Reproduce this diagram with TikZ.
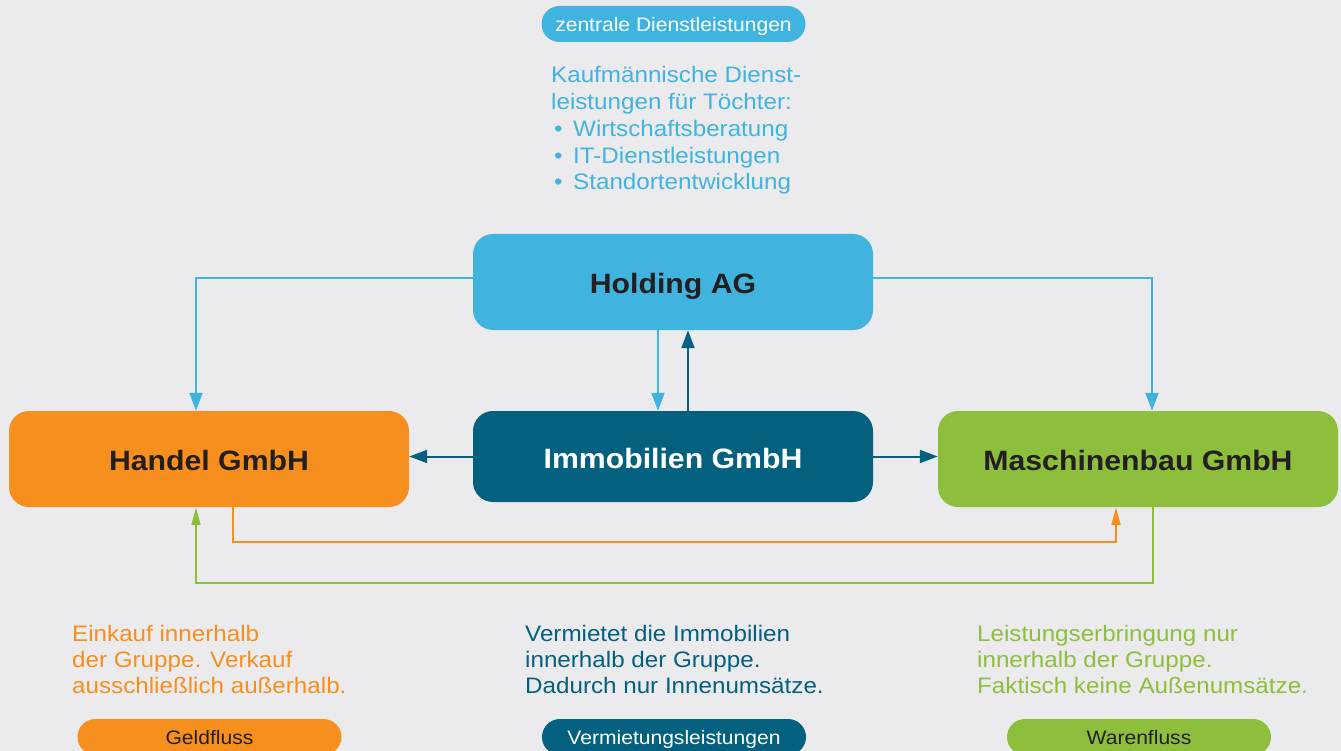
\documentclass[tikz,border=0pt]{standalone}
\usepackage{fontspec}
\setmainfont{Liberation Sans}[FakeStretch=1.08]
\usetikzlibrary{arrows.meta}
\definecolor{bg}{HTML}{EBEBED}
\definecolor{hcyan}{HTML}{40B4DF}
\definecolor{hteal}{HTML}{04607F}
\definecolor{horange}{HTML}{F78F1E}
\definecolor{hgreen}{HTML}{8DBF3D}
\definecolor{hdark}{HTML}{231F20}
\begin{document}
\begin{tikzpicture}[x=1pt,y=-1pt,
  box/.style={rectangle, rounded corners=20pt, minimum width=400pt, minimum height=96pt, inner sep=0pt, text height=23pt, text depth=0pt, font=\fontsize{28}{34}\selectfont\bfseries},
  pill/.style={rectangle, rounded corners=18pt, minimum width=264pt, minimum height=36pt, inner sep=0pt, text height=15pt, text depth=0pt, font=\fontsize{19.5}{24}\selectfont},
  txtline/.style={anchor=base west, inner sep=0pt, font=\fontsize{22.4}{26}\selectfont},
  conn/.style={line width=2pt, -{Triangle[length=18pt,width=13pt]}},
  connb/.style={line width=2pt, -{Triangle[length=18pt,width=9pt]}}
]
\clip (0,0) rectangle (1341,751);
\fill[bg] (0,0) rectangle (1341,751);

% top pill and text
\node[pill, fill=hcyan, text=white] (zd) at (673.5,24) {zentrale Dienstleistungen};
\node[txtline, text=hcyan] (t1) at (551,83) {Kaufmännische Dienst-};
\node[txtline, text=hcyan] (t2) at (551,110) {leistungen für Töchter:};
\node[txtline, text=hcyan] (t3) at (551,137) {\makebox[22pt][l]{\hspace{3pt}•}Wirtschaftsberatung};
\node[txtline, text=hcyan] (t4) at (551,163.5) {\makebox[22pt][l]{\hspace{3pt}•}IT-Dienstleistungen};
\node[txtline, text=hcyan] (t5) at (551,190) {\makebox[22pt][l]{\hspace{3pt}•}Standortentwicklung};

% boxes
\node[box, fill=hcyan, text=hdark] (hold) at (673,282) {Holding AG};
\node[box, fill=horange, text=hdark] (handel) at (209,459) {Handel GmbH};
\node[box, fill=hteal, text=white, minimum height=91pt] (immo) at (673,456.5) {Immobilien GmbH};
\node[box, fill=hgreen, text=hdark] (masch) at (1138,459) {Maschinenbau GmbH};

% connectors
\draw[conn, hcyan] ([yshift=4pt]hold.west) -| ([xshift=-13pt]handel.north);
\draw[conn, hcyan] ([yshift=4pt]hold.east) -| ([xshift=14pt]masch.north);
\draw[conn, hcyan] ([xshift=-15pt]hold.south) -- ([xshift=-15pt]immo.north);
\draw[conn, hteal] ([xshift=15pt]immo.north) -- ([xshift=15pt]hold.south);
\draw[conn, hteal] (immo.west) -- (immo.west -| handel.east);
\draw[conn, hteal] (immo.east) -- (immo.east -| masch.west);
\draw[connb, horange] ([xshift=24pt]handel.south) -- ++(0,35) -| ([xshift=-22pt]masch.south);
\draw[connb, hgreen] ([xshift=15pt]masch.south) -- ++(0,76) -| ([xshift=-13pt]handel.south);

% bottom texts
\node[txtline, text=horange] (o1) at (72,641) {Einkauf innerhalb};
\node[txtline, text=horange] (o2) at (72,667) {der Gruppe. Verkauf};
\node[txtline, text=horange] (o3) at (72,693) {ausschließlich außerhalb.};
\node[txtline, text=hteal] (b1) at (525,641) {Vermietet die Immobilien};
\node[txtline, text=hteal] (b2) at (525,667) {innerhalb der Gruppe.};
\node[txtline, text=hteal] (b3) at (525,693) {Dadurch nur Innenumsätze.};
\node[txtline, text=hgreen] (g1) at (977,641) {Leistungserbringung nur};
\node[txtline, text=hgreen] (g2) at (977,667) {innerhalb der Gruppe.};
\node[txtline, text=hgreen] (g3) at (977,693) {Faktisch keine Außenumsätze.};

% legend pills
\node[pill, fill=horange, text=hdark] (lg) at (209.5,737) {Geldfluss};
\node[pill, fill=hteal, text=white] (lv) at (674,737) {Vermietungsleistungen};
\node[pill, fill=hgreen, text=hdark] (lw) at (1139,737) {Warenfluss};
\end{tikzpicture}
\end{document}
